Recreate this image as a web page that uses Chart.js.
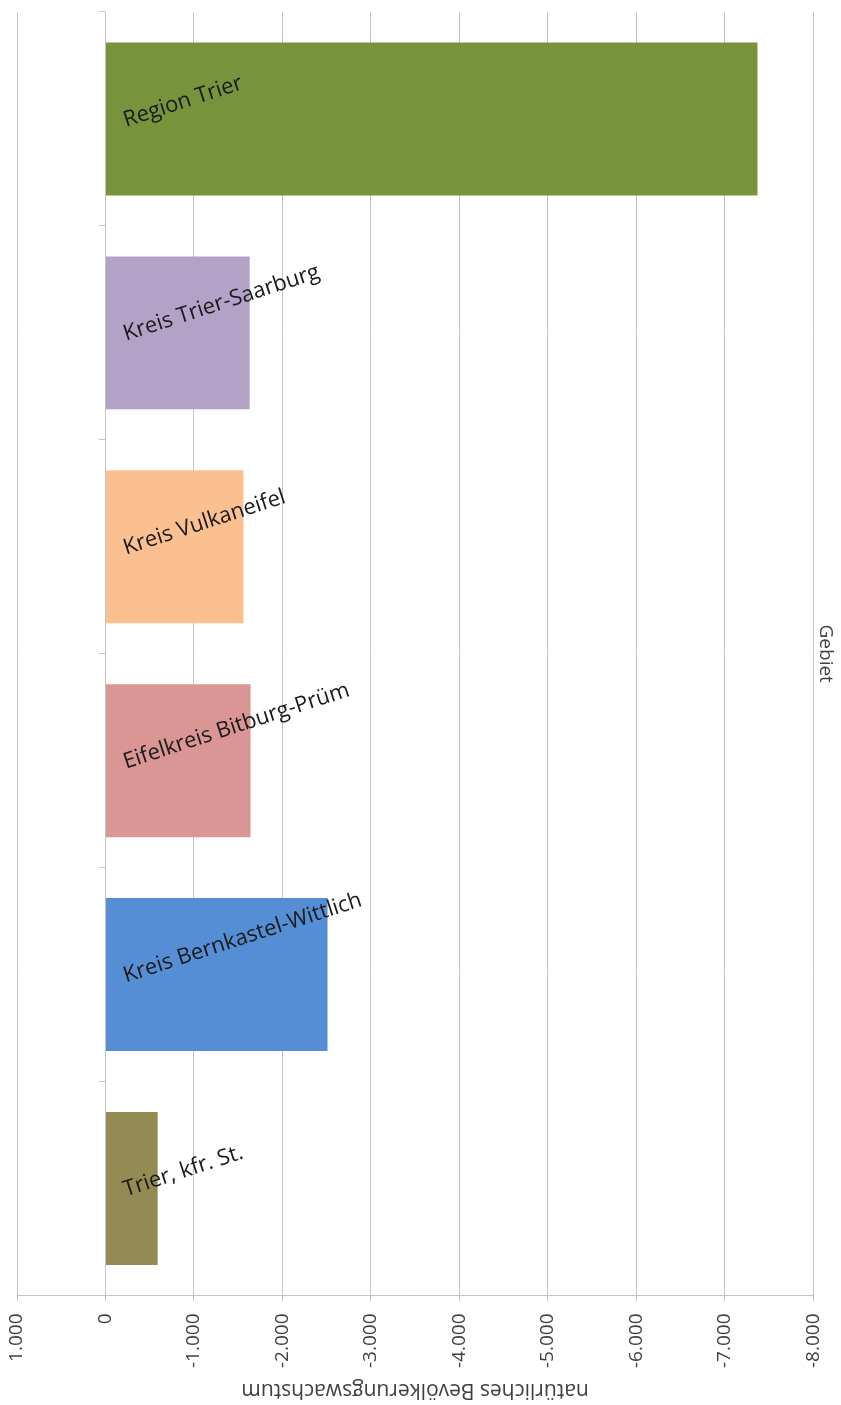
<!DOCTYPE html>
<html>
<head>
<meta charset="utf-8">
<script src="https://cdn.jsdelivr.net/npm/chart.js@4.4.1/dist/chart.umd.min.js"></script>
<style>
  html, body { margin: 0; background: #fff; }
  #wrap { width: 841px; height: 1405px; }
</style>
</head>
<body>
<div id="wrap"><canvas id="chart"></canvas></div>
<script>
const categories = [
  "Region Trier",
  "Kreis Trier-Saarburg",
  "Kreis Vulkaneifel",
  "Eifelkreis Bitburg-Prüm",
  "Kreis Bernkastel-Wittlich",
  "Trier, kfr. St.",
];
const growth = [-7370, -1630, -1560, -1640, -2510, -590];
const barColors = ["#77933c", "#b3a2c7", "#fac090", "#d99694", "#558ed5", "#948a54"];
const tickValues = [1000, 0, -1000, -2000, -3000, -4000, -5000, -6000, -7000, -8000];
const tickLabels = ["1.000", "0", "-1.000", "-2.000", "-3.000", "-4.000", "-5.000", "-6.000", "-7.000", "-8.000"];
const valueTitle = "natürliches Bevölkerungswachstum";
const categoryTitle = "Gebiet";

const FONT = "'Open Sans', 'DejaVu Sans', sans-serif";
const GRID = "#c4c4c4";

// labels sit inside the bars, tilted a little
const barLabels = {
  id: "barLabels",
  afterDatasetsDraw(chart) {
    const ctx = chart.ctx;
    const meta = chart.getDatasetMeta(0);
    ctx.save();
    ctx.font = `22px ${FONT}`;
    ctx.fillStyle = "#1a1a1a";
    ctx.textAlign = "left";
    ctx.textBaseline = "alphabetic";
    meta.data.forEach((bar, i) => {
      ctx.save();
      ctx.translate(bar.base + 20, bar.y + 8);
      ctx.rotate(-18 * Math.PI / 180);
      ctx.fillText(categories[i], 0, 0);
      ctx.restore();
    });
    ctx.restore();
  },
};

// value axis title is drawn upside down, as in the original
const flippedTitle = {
  id: "flippedTitle",
  afterDraw(chart) {
    const ctx = chart.ctx;
    const area = chart.chartArea;
    ctx.save();
    ctx.font = `21px ${FONT}`;
    ctx.fillStyle = "#404040";
    ctx.textAlign = "center";
    ctx.textBaseline = "middle";
    ctx.translate((area.left + area.right) / 2, 1390);
    ctx.rotate(Math.PI);
    ctx.fillText(valueTitle, 0, 0);
    ctx.restore();
  },
};

new Chart(document.getElementById("chart"), {
  type: "bar",
  data: {
    labels: categories,
    datasets: [{
      data: growth,
      backgroundColor: barColors,
      borderWidth: 0,
      barPercentage: 0.715,
      categoryPercentage: 1,
    }],
  },
  options: {
    indexAxis: "y",
    responsive: true,
    maintainAspectRatio: false,
    animation: false,
    layout: { padding: { top: 12, left: 17, right: 3, bottom: 25 } },
    plugins: {
      legend: { display: false },
      tooltip: { enabled: false },
    },
    scales: {
      x: {
        min: -8000,
        max: 1000,
        reverse: true,
        afterBuildTicks: (scale) => {
          scale.ticks = tickValues.map((v) => ({ value: v }));
        },
        afterFit: (scale) => {
          scale.paddingLeft = 0;
          scale.paddingRight = 0;
        },
        grid: { color: GRID, tickLength: 6 },
        border: { color: GRID },
        ticks: {
          minRotation: 90,
          maxRotation: 90,
          padding: 12,
          color: "#404040",
          font: { family: FONT, size: 19 },
          callback: (v) => tickLabels[tickValues.indexOf(v)],
        },
      },
      y: {
        position: { x: 0 },
        offset: true,
        grid: { drawOnChartArea: false, drawTicks: true, tickLength: 6, color: GRID, offset: true },
        border: { color: GRID },
        ticks: { display: false },
      },
      y2: {
        type: "category",
        labels: categories,
        position: "right",
        offset: true,
        grid: { display: false, drawTicks: false },
        border: { display: false },
        ticks: { display: false },
        title: {
          display: true,
          text: categoryTitle,
          color: "#404040",
          font: { family: FONT, size: 19 },
          padding: 1,
        },
      },
    },
  },
  plugins: [barLabels, flippedTitle],
});
</script>
</body>
</html>
